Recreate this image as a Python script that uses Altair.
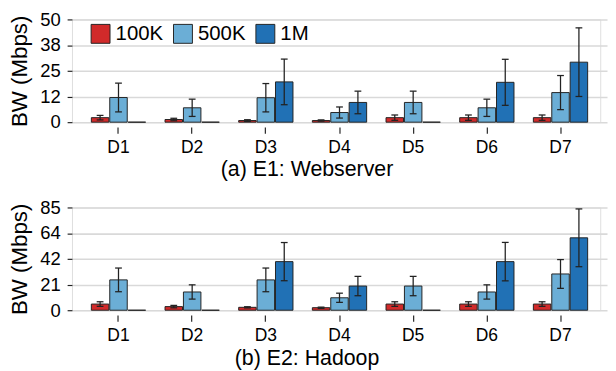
import altair as alt
import pandas as pd

categories = ["D1", "D2", "D3", "D4", "D5", "D6", "D7"]
series = ["100K", "500K", "1M"]
colors = ["#d12a2a", "#6baed6", "#2171b5"]

# (a) E1: Webserver
e1_100k = [2.2, 1.3, 0.8, 0.8, 2.2, 2.2, 2.2]
e1_100k_err = [1.1, 0.6, 0.4, 0.3, 1.3, 1.3, 1.3]
e1_500k = [12.0, 7.0, 11.9, 4.7, 9.6, 7.0, 14.4]
e1_500k_err = [7.0, 4.2, 6.9, 2.7, 5.5, 4.2, 8.3]
e1_1m = [0, 0, 19.6, 9.6, 0, 19.4, 29.2]
e1_1m_err = [0, 0, 11.1, 5.5, 0, 11.2, 16.7]

# (b) E2: Hadoop
e2_100k = [5.1, 3.0, 2.4, 2.1, 5.1, 5.1, 5.1]
e2_100k_err = [1.9, 1.0, 0.5, 0.5, 1.9, 1.9, 1.9]
e2_500k = [25.1, 15.1, 25.1, 10.3, 20.0, 15.1, 30.0]
e2_500k_err = [9.8, 5.9, 9.8, 3.8, 8.0, 5.9, 11.9]
e2_1m = [0, 0, 40.2, 20.0, 0, 40.2, 59.9]
e2_1m_err = [0, 0, 15.8, 8.0, 0, 15.9, 23.9]

e1_ticks = [0, 12.5, 25, 37.5, 50]
e1_tick_labels = ["0", "12", "25", "38", "50"]
e2_ticks = [0, 21.25, 42.5, 63.75, 85]
e2_tick_labels = ["0", "21", "42", "64", "85"]

FONT = "Liberation Sans"
INK = "#222222"


def make_df(vals, errs):
    rows = []
    for s, v, e in zip(series, vals, errs):
        for c, vi, ei in zip(categories, v, e):
            rows.append({"cat": c, "series": s, "value": vi,
                         "lo": max(vi - ei, 0), "hi": vi + ei, "err": ei})
    return pd.DataFrame(rows)


def label_expr(ticks, labels):
    expr = "''"
    for t, l in reversed(list(zip(ticks, labels))):
        expr = f"abs(datum.value - {t}) < 0.01 ? '{l}' : ({expr})"
    return expr


def panel(df, ticks, labels, domain, height, title, show_legend):
    xaxis = alt.Axis(title=title, labelAngle=0, grid=False, domain=False,
                     ticks=True, tickSize=6.5, tickColor=INK, tickWidth=1.2,
                     offset=5, labelFontSize=18, labelPadding=6, labelColor="black",
                     labelFont=FONT, titleFont=FONT, titleFontSize=22,
                     titleFontWeight="normal", titleX=242, titleAlign="center",
                     titlePadding=3, titleColor="black")
    xscale = alt.Scale(paddingInner=0.263, paddingOuter=0.263, range=[0, 552])
    xenc = alt.X("cat:N", sort=categories, scale=xscale, axis=xaxis)
    xoff = alt.XOffset("series:N", sort=series, scale=alt.Scale(paddingInner=0.05, paddingOuter=0))
    yscale = alt.Scale(domain=domain, nice=False, zero=True)
    yaxis = alt.Axis(values=ticks, labelExpr=label_expr(ticks, labels),
                     domain=False, grid=True, gridColor="#d9d9d9", gridWidth=1.6,
                     ticks=True, tickSize=5, tickColor=INK, tickWidth=1.2,
                     labelFontSize=19, labelPadding=7, labelColor="black", labelFont=FONT,
                     titleFont=FONT, titleFontSize=23, titleFontWeight="normal",
                     titlePadding=9, titleColor="black")
    if show_legend:
        legend = alt.Legend(title=None, orient="none", legendX=19, legendY=4, direction="horizontal",
                            symbolType="square", symbolSize=380, symbolStrokeColor=INK,
                            symbolStrokeWidth=1, symbolOpacity=1, labelFontSize=21, labelFont=FONT,
                            labelColor="black", labelOffset=5, columnPadding=7)
    else:
        legend = None
    cenc = alt.Color("series:N", sort=series, scale=alt.Scale(domain=series, range=colors), legend=legend)

    bars = alt.Chart(df).mark_bar(stroke=INK, strokeWidth=1, opacity=1).encode(
        x=xenc, xOffset=xoff,
        y=alt.Y("value:Q", title="BW (Mbps)", scale=yscale, axis=yaxis), color=cenc)

    err_df = df[df["value"] > 0]
    rules = alt.Chart(err_df).mark_rule(color=INK, strokeWidth=1.3).encode(
        x=xenc, xOffset=xoff,
        y=alt.Y("lo:Q", title="BW (Mbps)", scale=yscale, axis=yaxis), y2="hi:Q")

    caps_df = pd.concat([
        err_df.assign(cap=err_df["lo"]),
        err_df.assign(cap=err_df["hi"]),
    ])
    caps = alt.Chart(caps_df).mark_tick(color=INK, thickness=1.3, size=7, opacity=1).encode(
        x=xenc, xOffset=xoff,
        y=alt.Y("cap:Q", title="BW (Mbps)", scale=yscale, axis=yaxis))

    return alt.layer(bars, rules, caps).properties(width=545, height=height)


top = panel(make_df([e1_100k, e1_500k, e1_1m], [e1_100k_err, e1_500k_err, e1_1m_err]),
            e1_ticks, e1_tick_labels, [0, 50], 106, "(a) E1: Webserver", True)
bottom = panel(make_df([e2_100k, e2_500k, e2_1m], [e2_100k_err, e2_500k_err, e2_1m_err]),
               e2_ticks, e2_tick_labels, [0, 85], 106, "(b) E2: Hadoop", False)

chart = alt.vconcat(top, bottom, spacing=18).resolve_scale(color="independent").properties(
    padding={"left": 0, "top": -4, "right": 0, "bottom": 0}
).configure_view(stroke=None).configure(font=FONT)

chart.save("out.html", embed_options={"renderer": "svg", "actions": False})
